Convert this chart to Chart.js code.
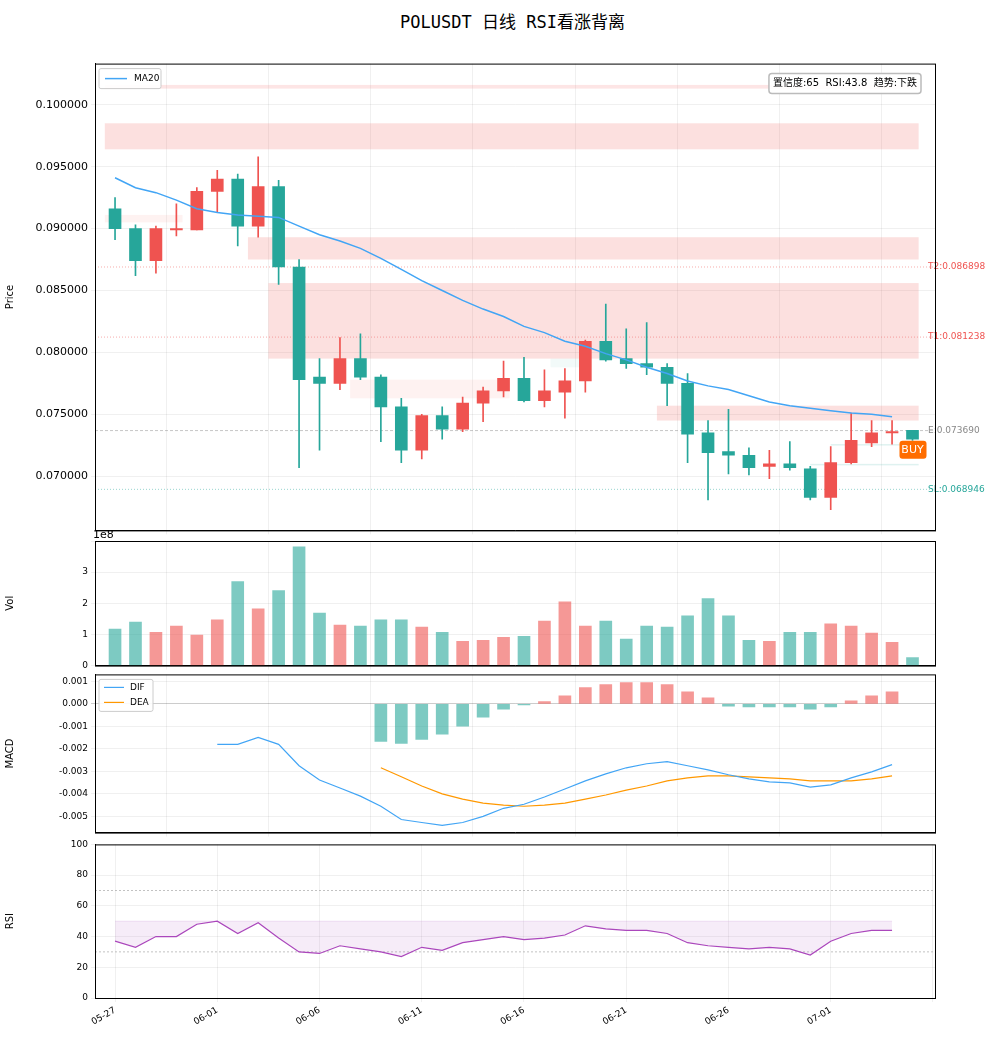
<!DOCTYPE html>
<html lang="zh">
<head>
<meta charset="UTF-8">
<title>POLUSDT 日线 RSI看涨背离</title>
<script src="https://cdn.jsdelivr.net/npm/chart.js"></script>
<style>
  body { margin: 0; background: #fff; width: 993px; height: 1040px; position: relative; overflow: hidden; }
  canvas { position: absolute; left: 0; }
  #title { position: absolute; top: 8px; left: 0; width: 1025px; text-align: center; font: 17px "DejaVu Sans Mono", "Noto Sans CJK SC", monospace; color: #000; }
</style>
</head>
<body>
<div id="title">POLUSDT  日线  RSI看涨背离</div>
<canvas id="cPrice"></canvas>
<canvas id="cVol"></canvas>
<canvas id="cMacd"></canvas>
<canvas id="cRsi"></canvas>
<script>
const dates = ['05-27','05-28','05-29','05-30','05-31','06-01','06-02','06-03','06-04','06-05',
  '06-06','06-07','06-08','06-09','06-10','06-11','06-12','06-13','06-14','06-15',
  '06-16','06-17','06-18','06-19','06-20','06-21','06-22','06-23','06-24','06-25',
  '06-26','06-27','06-28','06-29','06-30','07-01','07-02','07-03','07-04','07-05'];

const open  = [0.0916,0.0900,0.0874,0.0899,0.0899,0.0930,0.0940,0.0902,0.0934,0.0869,
  0.0780,0.0775,0.0795,0.0780,0.0756,0.0721,0.0749,0.0738,0.0759,0.0769,
  0.0779,0.0761,0.0768,0.0777,0.0809,0.0795,0.0791,0.0788,0.0775,0.0735,
  0.0720,0.0717,0.0708,0.0710,0.0706,0.0683,0.0711,0.0727,0.0735,0.0737];
const close = [0.0900,0.0874,0.0900,0.0900,0.0930,0.0940,0.0902,0.0934,0.0869,0.0778,
  0.0775,0.0795,0.0780,0.0756,0.0721,0.0749,0.0738,0.0759,0.0769,0.0779,
  0.0761,0.0769,0.0777,0.0809,0.0794,0.0791,0.0788,0.0775,0.0734,0.0719,
  0.0717,0.0707,0.0710,0.0707,0.0683,0.0711,0.0729,0.0735,0.0736,0.0730];
const high  = [0.0925,0.0903,0.0902,0.0920,0.0933,0.0947,0.0944,0.0958,0.0939,0.0875,
  0.0795,0.0812,0.0815,0.0782,0.0763,0.0750,0.0756,0.0764,0.0772,0.0793,
  0.0796,0.0786,0.0787,0.0810,0.0839,0.0819,0.0824,0.0791,0.0783,0.0745,
  0.0754,0.0723,0.0721,0.0728,0.0708,0.0724,0.0751,0.0745,0.0745,0.0737];
const low   = [0.0891,0.0862,0.0864,0.0894,0.0899,0.0913,0.0886,0.0893,0.0855,0.0707,
  0.0721,0.0770,0.0778,0.0728,0.0711,0.0714,0.0730,0.0736,0.0744,0.0764,
  0.0760,0.0756,0.0747,0.0768,0.0793,0.0787,0.0782,0.0757,0.0711,0.0681,
  0.0702,0.0701,0.0698,0.0705,0.0681,0.0673,0.0710,0.0724,0.0726,0.0729];
const ma20  = [0.0941,0.0933,0.0929,0.0923,0.0916,0.0913,0.0911,0.0910,0.0909,0.0902,
  0.0895,0.0890,0.0884,0.0876,0.0867,0.0858,0.0850,0.0842,0.0835,0.0829,
  0.0821,0.0816,0.0809,0.0805,0.0799,0.0794,0.0788,0.0783,0.0777,0.0773,
  0.0770,0.0765,0.0760,0.0757,0.0755,0.0753,0.0751,0.0750,0.0748];
const volume = [1.17,1.40,1.07,1.27,0.98,1.47,2.70,1.82,2.41,3.81,
  1.69,1.30,1.27,1.47,1.47,1.24,1.07,0.78,0.81,0.91,
  0.94,1.43,2.05,1.27,1.43,0.85,1.27,1.24,1.60,2.15,
  1.60,0.81,0.78,1.07,1.07,1.34,1.27,1.04,0.75,0.26];
// MACD starts later than price
const difStart = 5;
const dif = [-0.00180,-0.00180,-0.00149,-0.00180,-0.00275,-0.00338,-0.00374,-0.00410,-0.00455,-0.00514,
  -0.00527,-0.00540,-0.00527,-0.00500,-0.00464,-0.00446,-0.00414,-0.00378,-0.00342,-0.00311,
  -0.00284,-0.00266,-0.00257,-0.00275,-0.00293,-0.00315,-0.00333,-0.00347,-0.00351,-0.00370,
  -0.00360,-0.00329,-0.00302,-0.00270];
const deaStart = 13;
const dea = [-0.00284,-0.00324,-0.00365,-0.00400,-0.00423,-0.00441,-0.00450,-0.00455,-0.00450,-0.00441,
  -0.00423,-0.00405,-0.00383,-0.00365,-0.00342,-0.00329,-0.00320,-0.00320,-0.00324,-0.00329,
  -0.00333,-0.00342,-0.00342,-0.00342,-0.00333,-0.00320];
const hist = [-0.00167,-0.00176,-0.00158,-0.00135,-0.00099,-0.00059,-0.00023,-0.00005,0.00010,0.00036,
  0.00072,0.00086,0.00095,0.00095,0.00086,0.00054,0.00027,-0.00010,-0.00014,-0.00014,
  -0.00014,-0.00023,-0.00014,0.00014,0.00036,0.00054];
const rsi = [37,33,40,40,48,50,42,49,39,30,29,34,32,30,27,33,31,36,38,40,
  38,39,41,47,45,44,44,42,36,34,33,32,33,32,28,37,42,44,44];

// zones: [from index, to index, low, high, colour]
const zones = [
  [-0.5, 39.3, 0.1013, 0.1016, 'rgba(239,83,80,0.15)'],
  [-0.5, 39.3, 0.0964, 0.0985, 'rgba(239,83,80,0.18)'],
  [-0.5, 3.3, 0.0905, 0.0911, 'rgba(239,83,80,0.08)'],
  [6.5, 39.3, 0.0875, 0.0893, 'rgba(239,83,80,0.18)'],
  [7.5, 39.3, 0.0795, 0.0856, 'rgba(239,83,80,0.18)'],
  [11.5, 19.3, 0.0763, 0.0778, 'rgba(239,83,80,0.08)'],
  [21.3, 23.3, 0.0788, 0.0795, 'rgba(38,166,154,0.06)'],
  [26.5, 39.3, 0.0745, 0.0757, 'rgba(239,83,80,0.18)'],
  [34.0, 39.3, 0.0709, 0.0710, 'rgba(38,166,154,0.15)'],
  [35.0, 39.3, 0.0725, 0.0726, 'rgba(38,166,154,0.15)']
];
// levels: [label, price, colour, dash]
const levels = [
  ['T2:0.086898', 0.086898, '#ef5350', [1, 2]],
  ['T1:0.081238', 0.081238, '#ef5350', [1, 2]],
  ['E:0.073690', 0.073690, '#888888', [3, 2]],
  ['SL:0.068946', 0.068946, '#26a69a', [1, 2]]
];

const UP = '#ef5350', DOWN = '#26a69a';
const FONT = '"DejaVu Sans", "Noto Sans CJK SC", sans-serif';
Chart.defaults.font.family = FONT;
Chart.defaults.font.size = 11;
Chart.defaults.color = '#000';
Chart.defaults.animation = false;

const isUp = i => close[i] >= open[i];
const XMIN = -0.98, XMAX = 40.1;
const W = 993, LEFT = 95, RIGHT = 58;

function xScale(showLabels) {
  return {
    type: 'linear', min: XMIN, max: XMAX, offset: false,
    afterFit: s => { if (showLabels) s.height = 42; },
    ticks: {
      stepSize: 5, includeBounds: false, display: showLabels,
      maxRotation: 30, minRotation: 30, font: { size: 9 },
      callback: v => dates[v] || ''
    },
    grid: { color: 'rgba(0,0,0,0.06)', drawTicks: true, tickLength: 4 },
    border: { color: '#000' }
  };
}
function yScale(title, opts) {
  return Object.assign({
    afterFit: s => { s.width = LEFT; },
    title: { display: true, text: title, font: { size: 10 } },
    grid: { color: 'rgba(0,0,0,0.06)', tickLength: 4 },
    border: { color: '#000' }
  }, opts);
}
function place(id, top, h) {
  const c = document.getElementById(id);
  c.width = W; c.height = h; c.style.top = top + 'px';
  return c;
}
const frame = {
  id: 'frame',
  afterDraw(chart) {
    const a = chart.chartArea, ctx = chart.ctx;
    ctx.save(); ctx.strokeStyle = '#000'; ctx.lineWidth = 1;
    ctx.strokeRect(a.left + 0.5, a.top + 0.5, a.right - a.left, a.bottom - a.top);
    ctx.restore();
  }
};

// price panel
const priceDeco = {
  id: 'priceDeco',
  beforeDatasetsDraw(chart) {
    const { ctx, scales: { x, y } } = chart;
    ctx.save();
    zones.forEach(z => {
      const x0 = x.getPixelForValue(z[0]), x1 = x.getPixelForValue(z[1]);
      const y0 = y.getPixelForValue(z[3]), y1 = y.getPixelForValue(z[2]);
      ctx.fillStyle = z[4];
      ctx.fillRect(x0, y0, x1 - x0, Math.max(y1 - y0, 1.5));
    });
    levels.forEach(l => {
      const py = y.getPixelForValue(l[1]);
      ctx.strokeStyle = l[2]; ctx.globalAlpha = 0.6; ctx.lineWidth = 0.8;
      ctx.setLineDash(l[3]);
      ctx.beginPath(); ctx.moveTo(chart.chartArea.left, py); ctx.lineTo(chart.chartArea.right, py); ctx.stroke();
    });
    ctx.restore();
  },
  afterDraw(chart) {
    const { ctx, scales: { x, y }, chartArea: a } = chart;
    ctx.save();
    ctx.font = '9px ' + FONT; ctx.textBaseline = 'middle'; ctx.textAlign = 'left';
    levels.forEach(l => {
      ctx.fillStyle = l[2];
      ctx.fillText(l[0], a.right - 7, y.getPixelForValue(l[1]));
    });
    // BUY tag
    const bx = x.getPixelForValue(39), by = y.getPixelForValue(0.07215);
    ctx.fillStyle = '#ff6d00';
    ctx.beginPath(); ctx.roundRect(bx - 13, by - 9, 27, 18, 3); ctx.fill();
    ctx.fillStyle = '#fff'; ctx.font = '11px ' + FONT; ctx.textAlign = 'center';
    ctx.fillText('BUY', bx, by);
    // legend
    ctx.fillStyle = 'rgba(255,255,255,0.9)'; ctx.strokeStyle = '#ccc'; ctx.lineWidth = 1;
    ctx.beginPath(); ctx.roundRect(a.left + 4, a.top + 5, 62, 20, 2); ctx.fill(); ctx.stroke();
    ctx.strokeStyle = '#42a5f5'; ctx.lineWidth = 1.5;
    ctx.beginPath(); ctx.moveTo(a.left + 10, a.top + 15); ctx.lineTo(a.left + 32, a.top + 15); ctx.stroke();
    ctx.fillStyle = '#000'; ctx.font = '9px ' + FONT; ctx.textAlign = 'left';
    ctx.fillText('MA20', a.left + 39, a.top + 15);
    // info box
    const txt = '置信度:65  RSI:43.8  趋势:下跌';
    ctx.font = '10px ' + FONT;
    const tw = ctx.measureText(txt).width;
    ctx.fillStyle = 'rgba(255,255,255,0.9)'; ctx.strokeStyle = '#bbb';
    ctx.beginPath(); ctx.roundRect(a.right - tw - 22, a.top + 10, tw + 8, 20, 3); ctx.fill(); ctx.stroke();
    ctx.fillStyle = '#000'; ctx.fillText(txt, a.right - tw - 18, a.top + 20);
    ctx.restore();
  }
};

new Chart(place('cPrice', 54, 486), {
  type: 'bar',
  data: {
    datasets: [
      { type: 'line', label: 'MA20', data: ma20.map((v, i) => ({ x: i, y: v })),
        borderColor: '#42a5f5', borderWidth: 1.5, pointRadius: 0, order: 0 },
      { label: 'body', data: open.map((o, i) => ({ x: i, y: [Math.min(o, close[i]) , Math.max(o, close[i]) + (Math.abs(o - close[i]) < 0.00005 ? 0.00005 : 0)] })),
        backgroundColor: open.map((o, i) => isUp(i) ? UP : DOWN), barThickness: 12, grouped: false, order: 1 },
      { label: 'wick', data: high.map((h, i) => ({ x: i, y: [low[i], h] })),
        backgroundColor: open.map((o, i) => isUp(i) ? UP : DOWN), barThickness: 1, grouped: false, order: 2 }
    ]
  },
  options: {
    responsive: false,
    layout: { padding: { top: 1, bottom: 1, right: RIGHT } },
    plugins: { legend: { display: false }, tooltip: { enabled: false } },
    scales: {
      x: xScale(false),
      y: yScale('Price', { min: 0.06563, max: 0.10332,
        ticks: { stepSize: 0.005, includeBounds: false, callback: v => v.toFixed(6) } })
    }
  },
  plugins: [priceDeco, frame]
});

// volume panel
const volLabel = {
  id: 'volLabel',
  afterDraw(chart) {
    const ctx = chart.ctx, a = chart.chartArea;
    ctx.save(); ctx.font = '11px ' + FONT; ctx.fillStyle = '#000';
    ctx.fillText('1e8', a.left - 2, a.top - 3); ctx.restore();
  }
};
new Chart(place('cVol', 529, 145), {
  type: 'bar',
  data: { datasets: [{ data: volume.map((v, i) => ({ x: i, y: v })),
    backgroundColor: volume.map((v, i) => isUp(i) ? 'rgba(239,83,80,0.6)' : 'rgba(38,166,154,0.6)'),
    barThickness: 12 }] },
  options: {
    responsive: false,
    layout: { padding: { top: 12, bottom: 1, right: RIGHT } },
    plugins: { legend: { display: false }, tooltip: { enabled: false } },
    scales: {
      x: xScale(false),
      y: yScale('Vol', { min: 0, max: 4.0, ticks: { stepSize: 1, includeBounds: false, font: { size: 9 },
        callback: v => v < 3.5 ? v : '' } })
    }
  },
  plugins: [frame, volLabel]
});

// MACD panel
const macdLegend = {
  id: 'macdLegend',
  afterDraw(chart) {
    const ctx = chart.ctx, a = chart.chartArea;
    ctx.save();
    ctx.fillStyle = 'rgba(255,255,255,0.9)'; ctx.strokeStyle = '#ccc'; ctx.lineWidth = 1;
    ctx.beginPath(); ctx.roundRect(a.left + 4, a.top + 5, 54, 32, 2); ctx.fill(); ctx.stroke();
    ctx.font = '9px ' + FONT; ctx.textBaseline = 'middle';
    [['DIF', '#42a5f5'], ['DEA', '#ff9800']].forEach((d, i) => {
      const py = a.top + 13 + i * 15;
      ctx.strokeStyle = d[1]; ctx.lineWidth = 1.2;
      ctx.beginPath(); ctx.moveTo(a.left + 9, py); ctx.lineTo(a.left + 29, py); ctx.stroke();
      ctx.fillStyle = '#000'; ctx.fillText(d[0], a.left + 35, py);
    });
    ctx.restore();
  }
};
new Chart(place('cMacd', 666, 175), {
  type: 'bar',
  data: { datasets: [
    { type: 'line', label: 'DIF', data: dif.map((v, i) => ({ x: i + difStart, y: v })),
      borderColor: '#42a5f5', borderWidth: 1.2, pointRadius: 0, order: 0 },
    { type: 'line', label: 'DEA', data: dea.map((v, i) => ({ x: i + deaStart, y: v })),
      borderColor: '#ff9800', borderWidth: 1.2, pointRadius: 0, order: 0 },
    { label: 'hist', data: hist.map((v, i) => ({ x: i + deaStart, y: v })),
      backgroundColor: hist.map(v => v >= 0 ? 'rgba(239,83,80,0.6)' : 'rgba(38,166,154,0.6)'),
      barThickness: 12, order: 1 }
  ] },
  options: {
    responsive: false,
    layout: { padding: { top: 1, bottom: 1, right: RIGHT } },
    plugins: { legend: { display: false }, tooltip: { enabled: false } },
    scales: {
      x: xScale(false),
      y: yScale('MACD', { min: -0.00572, max: 0.00131,
        grid: { color: c => c.tick && c.tick.value === 0 ? 'rgba(0,0,0,0.2)' : 'rgba(0,0,0,0.06)', tickLength: 4 },
        ticks: { stepSize: 0.001, includeBounds: false, font: { size: 9 }, callback: v => v.toFixed(3) } })
    }
  },
  plugins: [frame, macdLegend]
});

// RSI panel
new Chart(place('cRsi', 836, 204), {
  type: 'line',
  data: { datasets: [
    { label: 'mid', data: rsi.map((v, i) => ({ x: i, y: 50 })), borderColor: 'rgba(171,71,188,0.15)', borderWidth: 1, pointRadius: 0 },
    { label: 'RSI', data: rsi.map((v, i) => ({ x: i, y: v })), borderColor: '#ab47bc', borderWidth: 1.2, pointRadius: 0,
      fill: '-1', backgroundColor: 'rgba(171,71,188,0.1)' }
  ] },
  options: {
    responsive: false,
    layout: { padding: { top: 1, bottom: 0, right: RIGHT } },
    plugins: { legend: { display: false }, tooltip: { enabled: false } },
    scales: {
      x: xScale(true),
      y: yScale('RSI', { min: 0, max: 100,
        ticks: { stepSize: 20, font: { size: 9 } } })
    }
  },
  plugins: [frame, {
    id: 'rsiLevels',
    beforeDatasetsDraw(chart) {
      const { ctx, scales: { y }, chartArea: a } = chart;
      ctx.save(); ctx.strokeStyle = '#999'; ctx.lineWidth = 0.6; ctx.setLineDash([2, 2]);
      [70, 30].forEach(v => { const py = y.getPixelForValue(v); ctx.beginPath(); ctx.moveTo(a.left, py); ctx.lineTo(a.right, py); ctx.stroke(); });
      ctx.restore();
    }
  }]
});
</script>
</body>
</html>
